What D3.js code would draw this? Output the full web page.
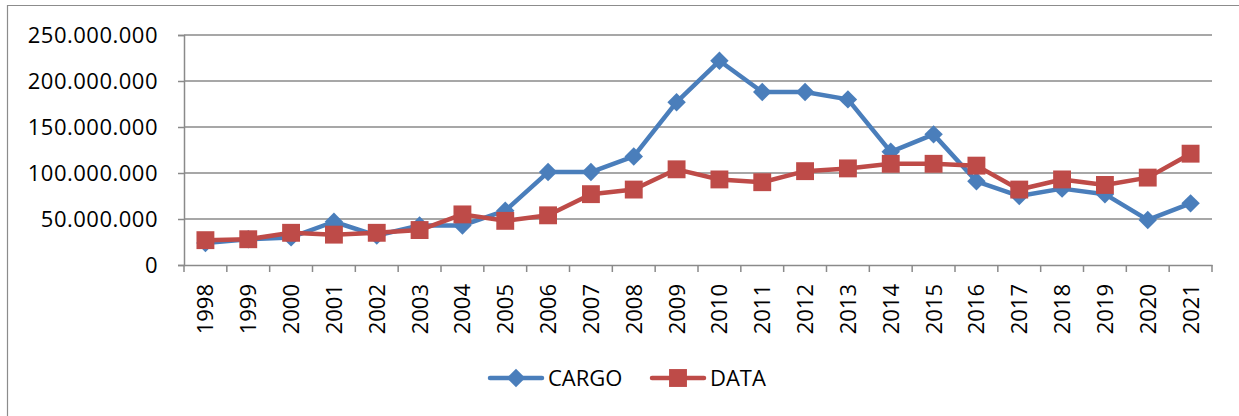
<!DOCTYPE html>
<html>
<head>
<meta charset="utf-8">
<script src="https://cdn.jsdelivr.net/npm/d3@7"></script>
<style>
  body { margin: 0; background: #fff; }
  svg text { font-family: "Open Sans", sans-serif; fill: #000; }
</style>
</head>
<body>
<div id="plot"></div>
<script>
// data
const years = ["1998","1999","2000","2001","2002","2003","2004","2005","2006","2007","2008","2009",
               "2010","2011","2012","2013","2014","2015","2016","2017","2018","2019","2020","2021"];
const cargo = [24e6, 28e6, 30e6, 47e6, 32e6, 43e6, 43e6, 59e6, 101e6, 101e6, 118e6, 177e6,
               222e6, 188e6, 188e6, 180e6, 123e6, 142e6, 91e6, 75e6, 83e6, 77e6, 49e6, 67e6];
const dataSeries = [27e6, 28e6, 35e6, 33e6, 35e6, 38e6, 55e6, 48e6, 54e6, 77e6, 82e6, 104e6,
               93e6, 90e6, 102e6, 105e6, 110e6, 110e6, 108e6, 82e6, 93e6, 87e6, 95e6, 121e6];
const yTicks = [0, 50e6, 100e6, 150e6, 200e6, 250e6];
const seriesNames = ["CARGO", "DATA"];

const W = 1239, H = 416;
const plot = { left: 184, right: 1212, top: 35, bottom: 265 };
const blue = "#4a7ebb", red = "#be4b48", grid = "#8a8a8a";

const svg = d3.select("#plot").append("svg")
    .attr("width", W)
    .attr("height", H);

// outer chart frame (only top and left edges fall inside the picture)
svg.append("path")
    .attr("d", `M7.5,${H} V5.5 H${W}`)
    .attr("fill", "none")
    .attr("stroke", "#8c8c8c")
    .attr("stroke-width", 1.2);

const x = d3.scaleBand().domain(years).range([plot.left, plot.right]);
const y = d3.scaleLinear().domain([0, 250e6]).range([plot.bottom, plot.top]);

const locale = d3.formatLocale({ decimal: ",", thousands: ".", grouping: [3], currency: ["", ""] });
const fmt = locale.format(",d");

// gridlines
svg.append("g")
    .selectAll("line")
    .data(yTicks.filter(d => d > 0))
    .join("line")
    .attr("x1", plot.left).attr("x2", plot.right)
    .attr("y1", d => y(d)).attr("y2", d => y(d))
    .attr("stroke", grid)
    .attr("stroke-width", 1.5);

// y axis
const yAxis = svg.append("g")
    .attr("transform", `translate(${plot.left},0)`)
    .call(d3.axisLeft(y).tickValues(yTicks).tickFormat(fmt).tickSize(6).tickPadding(20));
yAxis.select(".domain").attr("stroke", grid).attr("stroke-width", 1.5);
yAxis.selectAll(".tick line").attr("stroke", grid).attr("stroke-width", 1.5);
yAxis.selectAll("text")
    .attr("font-size", "22px")
    .attr("letter-spacing", "0.5px")
    .style("font-family", "'Open Sans', sans-serif");

// x axis
const xAxis = svg.append("g")
    .attr("transform", `translate(0,${plot.bottom})`)
    .call(d3.axisBottom(x).tickSize(0).tickFormat(""));
xAxis.select(".domain").attr("stroke", grid).attr("stroke-width", 1.5);

// category boundary ticks
svg.append("g")
    .selectAll("line")
    .data(years.map(d => x(d)).concat([plot.right]))
    .join("line")
    .attr("x1", d => d).attr("x2", d => d)
    .attr("y1", plot.bottom).attr("y2", plot.bottom + 7)
    .attr("stroke", grid)
    .attr("stroke-width", 1.5);

// rotated year labels
svg.append("g")
    .selectAll("text")
    .data(years)
    .join("text")
    .attr("transform", d => `translate(${x(d) + x.bandwidth() / 2 + 8},${plot.bottom + 19}) rotate(-90)`)
    .attr("text-anchor", "end")
    .attr("font-size", "22px")
    .text(d => d);

const cx = d => x(d) + x.bandwidth() / 2;
const line = d3.line().x((d, i) => cx(years[i])).y(d => y(d));

const diamond = d3.symbol().type(d3.symbolSquare).size(170);
const square = d3.symbol().type(d3.symbolSquare).size(320);

// CARGO line
svg.append("path")
    .datum(cargo)
    .attr("fill", "none")
    .attr("stroke", blue)
    .attr("stroke-width", 4.5)
    .attr("stroke-linejoin", "round")
    .attr("d", line);
svg.append("g")
    .selectAll("path")
    .data(cargo)
    .join("path")
    .attr("d", diamond)
    .attr("transform", (d, i) => `translate(${cx(years[i])},${y(d)}) rotate(45)`)
    .attr("fill", blue);

// DATA line
svg.append("path")
    .datum(dataSeries)
    .attr("fill", "none")
    .attr("stroke", red)
    .attr("stroke-width", 4.5)
    .attr("stroke-linejoin", "round")
    .attr("d", line);
svg.append("g")
    .selectAll("path")
    .data(dataSeries)
    .join("path")
    .attr("d", square)
    .attr("transform", (d, i) => `translate(${cx(years[i])},${y(d)})`)
    .attr("fill", red);

// legend
const legend = svg.append("g").attr("transform", "translate(0,378)");
const legendItems = [
  { name: seriesNames[0], color: blue, sym: diamond, rot: 45, x0: 490 },
  { name: seriesNames[1], color: red, sym: square, rot: 0, x0: 652 }
];
legendItems.forEach(it => {
    legend.append("line")
        .attr("x1", it.x0).attr("x2", it.x0 + 52)
        .attr("y1", 0).attr("y2", 0)
        .attr("stroke", it.color)
        .attr("stroke-width", 4.5)
        .attr("stroke-linecap", "round");
    legend.append("path")
        .attr("d", it.sym)
        .attr("transform", `translate(${it.x0 + 26},0) rotate(${it.rot})`)
        .attr("fill", it.color);
    legend.append("text")
        .attr("x", it.x0 + 58)
        .attr("y", 8)
        .attr("font-size", "22px")
        .text(it.name);
});
</script>
</body>
</html>
